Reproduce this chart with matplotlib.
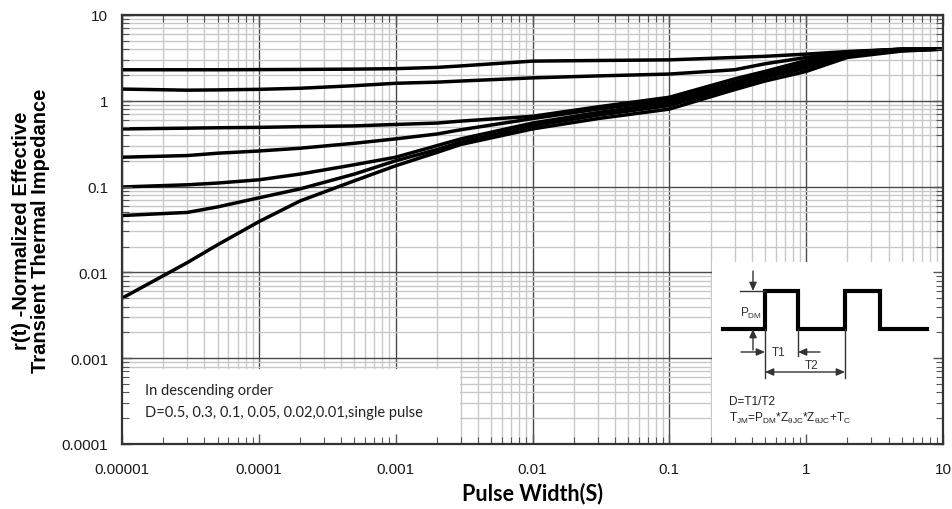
import matplotlib
matplotlib.use("Agg")
import matplotlib.pyplot as plt
import numpy as np

# ---- data ----
pulse_width = [1e-5, 3e-5, 5e-5, 1e-4, 2e-4, 5e-4, 1e-3, 2e-3, 3e-3, 1e-2, 3e-2, 1e-1, 3e-1, 5e-1, 1, 2, 5, 10]
d_050 = [2.30, 2.30, 2.30, 2.31, 2.32, 2.34, 2.37, 2.45, 2.55, 2.90, 2.95, 3.00, 3.20, 3.30, 3.50, 3.75, 4.00, 4.00]
d_030 = [1.37, 1.33, 1.34, 1.36, 1.40, 1.50, 1.60, 1.65, 1.70, 1.85, 1.95, 2.05, 2.30, 2.70, 3.20, 3.70, 4.00, 4.00]
d_010 = [0.47, 0.48, 0.485, 0.49, 0.50, 0.51, 0.53, 0.55, 0.58, 0.66, 0.85, 1.10, 1.80, 2.20, 2.95, 3.60, 4.00, 4.00]
d_005 = [0.22, 0.23, 0.245, 0.26, 0.28, 0.32, 0.36, 0.41, 0.46, 0.62, 0.80, 1.02, 1.65, 2.05, 2.75, 3.50, 3.95, 4.00]
d_002 = [0.099, 0.105, 0.11, 0.12, 0.14, 0.18, 0.22, 0.30, 0.36, 0.55, 0.73, 0.95, 1.55, 1.95, 2.55, 3.40, 3.90, 4.00]
d_001 = [0.046, 0.050, 0.058, 0.074, 0.094, 0.14, 0.20, 0.27, 0.33, 0.51, 0.68, 0.88, 1.45, 1.85, 2.40, 3.30, 3.85, 4.00]
single = [0.005, 0.013, 0.021, 0.039, 0.068, 0.117, 0.175, 0.25, 0.31, 0.47, 0.62, 0.80, 1.35, 1.70, 2.20, 3.20, 3.80, 4.00]
series = [d_050, d_030, d_010, d_005, d_002, d_001, single]

x_ticks = [1e-5, 1e-4, 1e-3, 1e-2, 1e-1, 1, 10]
x_ticklabels = ["0.00001", "0.0001", "0.001", "0.01", "0.1", "1", "10"]
y_ticks = [1e-4, 1e-3, 1e-2, 1e-1, 1, 10]
y_ticklabels = ["0.0001", "0.001", "0.01", "0.1", "1", "10"]

x_label = "Pulse Width(S)"
y_label = "r(t) -Normalized Effective\nTransient Thermal Impedance"
legend_lines = ["In descending order", "D=0.5, 0.3, 0.1, 0.05, 0.02,0.01,single pulse"]

plt.rcParams['mathtext.default'] = 'regular'

W, H = 952, 510
fig = plt.figure(figsize=(W / 100, H / 100), dpi=100)
fig.patch.set_facecolor("white")

L, R, T, B = 122, 943, 16, 445
pos = [L / W, 1 - B / H, (R - L) / W, (B - T) / H]

ax = fig.add_axes(pos)
ax.set_xscale("log")
ax.set_yscale("log")
ax.set_xlim(1e-5, 10)
ax.set_ylim(1e-4, 10)
ax.set_axisbelow(True)
ax.grid(True, which="minor", color="#c8c8c8", lw=1.0)
ax.grid(True, which="major", color="#4a4a4a", lw=1.0)
for s in series:
    ax.plot(pulse_width, s, color="black", lw=2.5, solid_capstyle="round",
            solid_joinstyle="round", zorder=3)
ax.tick_params(which="both", length=0)
ax.set_xticks(x_ticks)
ax.set_xticklabels(x_ticklabels, fontsize=11, family="Liberation Sans", color="#1a1a1a")
ax.set_yticks(y_ticks)
ax.set_yticklabels(y_ticklabels, fontsize=11, family="Liberation Sans", color="#1a1a1a")
ax.tick_params(axis="x", pad=13)
ax.tick_params(axis="y", pad=10)
ax.set_xlabel(x_label, fontsize=15.5, fontweight="bold", family="Lato", labelpad=4)
ax.set_ylabel(y_label, fontsize=14.5, fontweight="bold", family="Liberation Sans", labelpad=8,
              linespacing=1.05)
for sp in ax.spines.values():
    sp.set_visible(False)

# ---- legend box ----
lb = fig.add_axes([123 / W, 1 - 444 / H, (460 - 123) / W, (444 - 370) / H])
lb.set_facecolor("white")
lb.set_xlim(0, 337)
lb.set_ylim(74, 0)
lb.set_xticks([]); lb.set_yticks([])
for sp in lb.spines.values():
    sp.set_visible(False)
lb.text(22, 21, legend_lines[0], fontsize=10.5, family="Lato", color="#222222", va="center")
lb.text(22, 43, legend_lines[1], fontsize=10.5, family="Lato", color="#222222", va="center")

# ---- inset pulse diagram ----
ib = fig.add_axes([712 / W, 1 - 445 / H, (943 - 712) / W, (445 - 263) / H])
ib.set_facecolor("white")
ib.set_xlim(0, 231)
ib.set_ylim(182, 0)
ib.set_xticks([]); ib.set_yticks([])
for sp in ib.spines.values():
    sp.set_visible(False)
wave_x = [11, 53, 53, 86, 86, 133, 133, 168, 168, 215]
wave_y = [67, 67, 29, 29, 67, 67, 29, 29, 67, 67]
ib.plot(wave_x, wave_y, color="black", lw=3.0, solid_joinstyle="miter")
thin = dict(color="#333333", lw=1.0)
arr = dict(arrowstyle="-|>,head_length=0.5,head_width=0.22", color="#333333", lw=1.0,
           shrinkA=0, shrinkB=0)
ib.plot([28, 53], [29, 29], **thin)
ib.annotate("", xy=(41, 29), xytext=(41, 9), arrowprops=arr)
ib.annotate("", xy=(41, 67), xytext=(41, 88), arrowprops=arr)
ib.text(28, 50, "P$_{DM}$", fontsize=8.5, family="Liberation Sans", color="#333333", va="center")
ib.plot([86, 86], [67, 94], **thin)
ib.plot([53, 53], [67, 116], **thin)
ib.plot([133, 133], [67, 116], **thin)
ib.annotate("", xy=(53, 90), xytext=(29, 90), arrowprops=arr)
ib.annotate("", xy=(86, 90), xytext=(108, 90), arrowprops=arr)
ib.text(67, 90, "T1", fontsize=8.5, family="Liberation Sans", color="#333333", ha="center", va="center")
ib.annotate("", xy=(53, 110), xytext=(133, 110),
            arrowprops=dict(arrowstyle="<|-|>,head_length=0.5,head_width=0.22", color="#333333",
                            lw=1.0, shrinkA=0, shrinkB=0))
ib.text(100, 103, "T2", fontsize=8.5, family="Liberation Sans", color="#333333", ha="center", va="center")
ib.text(17, 139, "D=T1/T2", fontsize=8.5, family="Liberation Sans", color="#222222", va="center")
ib.text(17, 155, "T$_{JM}$=P$_{DM}$*Z$_{θJC}$*Z$_{θJC}$+T$_{C}$", fontsize=8.5,
        family="Liberation Sans", color="#222222", va="center")

# ---- overlay: frame and inward ticks on all sides ----
ov = fig.add_axes(pos, sharex=ax, sharey=ax)
ov.set_zorder(10)
ov.patch.set_visible(False)
ov.tick_params(which="both", direction="in", top=True, right=True, bottom=True, left=True,
               labelbottom=False, labelleft=False, color="#555555")
ov.tick_params(which="major", length=7, width=1.0)
ov.tick_params(which="minor", length=5, width=0.8)
ov.set_xlabel(""); ov.set_ylabel("")
for sp in ov.spines.values():
    sp.set_color("#333333")
    sp.set_linewidth(1.6)

fig.savefig("out.png", dpi=100, facecolor="white")
